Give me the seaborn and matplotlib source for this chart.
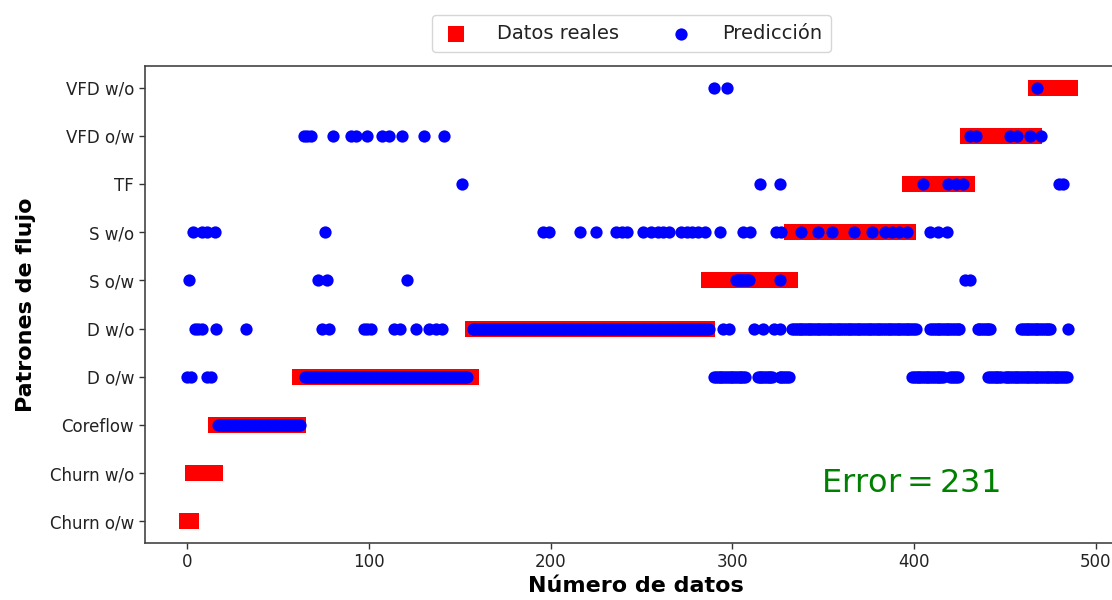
import numpy as np
import pandas as pd
import matplotlib
matplotlib.use("Agg")
import matplotlib.pyplot as plt
import seaborn as sns

# ---------------- data ----------------
categories = ["Churn o/w", "Churn w/o", "Coreflow", "D o/w", "D w/o",
              "S o/w", "S w/o", "TF", "VFD o/w", "VFD w/o"]
# number of consecutive samples of each real flow pattern (in order)
real_counts = [3, 13, 46, 95, 130, 46, 65, 32, 37, 20]

# predictions: runs (start, end) of sample indices predicted as each class
pred_churn_ow = []
pred_churn_wo = []
pred_coreflow = [(17, 62)]
pred_d_ow = [(0, 0), (2, 2), (11, 11), (13, 13), (65, 154), (290, 307),
             (314, 322), (326, 331), (399, 416), (420, 424), (441, 448), (450, 484)]
pred_d_wo = [(4, 4), (6, 6), (8, 8), (16, 16), (32, 32), (74, 74), (78, 78),
             (97, 97), (99, 99), (101, 101), (114, 114), (117, 117), (126, 126),
             (133, 133), (137, 137), (140, 140), (157, 287), (295, 295),
             (298, 298), (312, 312), (317, 317), (323, 323), (326, 326),
             (333, 401), (409, 425), (435, 442), (459, 475), (485, 485)]
pred_s_ow = [(1, 1), (72, 72), (77, 77), (121, 121), (302, 309), (326, 326),
             (428, 428), (431, 431)]
pred_s_wo = [(3, 3), (8, 8), (11, 11), (15, 15), (76, 76), (196, 196), (199, 199),
             (216, 216), (225, 225), (236, 236), (239, 239), (242, 242),
             (251, 251), (255, 255), (259, 259), (262, 262), (265, 265),
             (272, 272), (275, 275), (278, 278), (281, 281), (285, 285),
             (293, 293), (306, 306), (310, 310), (324, 324), (327, 327),
             (338, 338), (347, 347), (355, 355), (367, 367), (377, 377),
             (384, 384), (388, 388), (392, 392), (396, 396), (409, 409),
             (413, 413), (418, 418)]
pred_tf = [(151, 151), (315, 315), (326, 326), (405, 405), (419, 419),
           (423, 423), (427, 427), (480, 480), (482, 482)]
pred_vfd_ow = [(64, 64), (66, 66), (68, 68), (80, 80), (90, 90), (93, 93),
               (99, 99), (107, 107), (111, 111), (118, 118), (130, 130),
               (141, 141), (431, 431), (434, 434), (453, 453), (457, 457),
               (464, 464), (470, 470)]
pred_vfd_wo = [(290, 290), (297, 297), (468, 468)]

pred_runs = [pred_churn_ow, pred_churn_wo, pred_coreflow, pred_d_ow, pred_d_wo,
             pred_s_ow, pred_s_wo, pred_tf, pred_vfd_ow, pred_vfd_wo]

error_value = 231

# ---------------- tables ----------------
real_y = np.repeat(np.arange(len(categories)), real_counts)
df_real = pd.DataFrame({"x": np.arange(len(real_y)), "y": real_y})

px, py = [], []
for ci, runs in enumerate(pred_runs):
    for a, b in runs:
        for i in range(a, b + 1):
            px.append(i)
            py.append(ci)
df_pred = pd.DataFrame({"x": px, "y": py})

# ---------------- plot ----------------
sns.set_style("white")
plt.rcParams["font.family"] = ["DejaVu Sans"]

fig = plt.figure(figsize=(11.12, 6), dpi=100)
ax = fig.add_axes([0.130, 0.095, 0.883, 0.795])

sns.scatterplot(data=df_real, x="x", y="y", marker="s", s=135, color="red",
                linewidth=0, ax=ax, label="Datos reales", zorder=2)
sns.scatterplot(data=df_pred, x="x", y="y", marker="o", s=78, color="blue",
                linewidth=0, ax=ax, label="Predicción", zorder=3)

ax.set_xlim(-23.6, 517)
ax.set_ylim(-0.45, 9.45)
ax.set_yticks(np.arange(len(categories)))
ax.set_yticklabels(categories)
ax.set_xticks([0, 100, 200, 300, 400, 500])
ax.tick_params(axis="both", labelsize=12, length=4, width=1, color="#333333",
               left=True, bottom=True, labelcolor="#222222")
for sp in ax.spines.values():
    sp.set_color("#444444")
    sp.set_linewidth(1.2)

ax.set_xlabel("Número de datos", fontsize=16, fontweight="bold", color="black",
              labelpad=3)
ax.set_ylabel("Patrones de flujo", fontsize=16, fontweight="bold", color="black",
              labelpad=10)

ax.text(349, 0.78, f"Error$=${error_value}", color="green", fontsize=23,
        va="center", ha="left")

leg = ax.legend(loc="lower center", bbox_to_anchor=(0.496, 1.03), ncol=2,
                fontsize=14, frameon=True, columnspacing=2.4, handletextpad=1.3,
                borderpad=0.45, borderaxespad=0.0, handlelength=1.6)
leg.get_frame().set_edgecolor("#cccccc")
for t in leg.get_texts():
    t.set_color("#222222")

fig.savefig("out.png", dpi=100)
